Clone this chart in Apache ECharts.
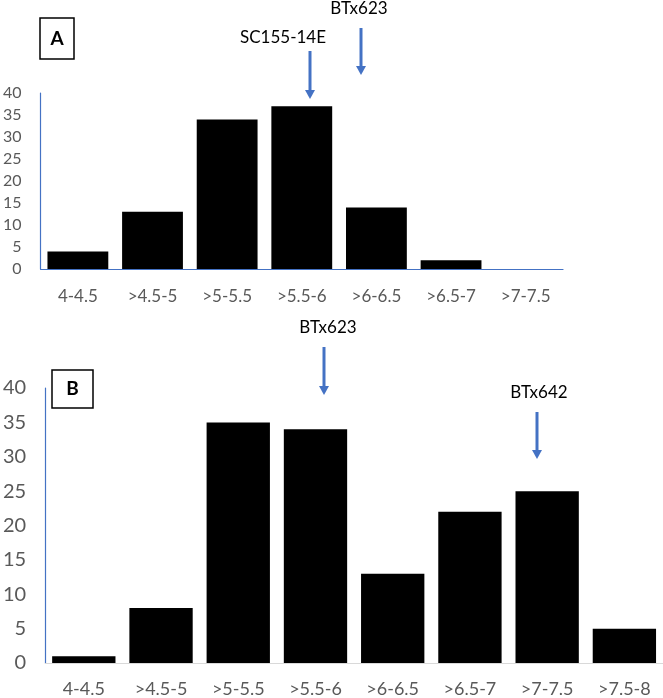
<!DOCTYPE html>
<html>
<head>
<meta charset="utf-8">
<script src="https://cdn.jsdelivr.net/npm/echarts@6/dist/echarts.min.js"></script>
<style>
html,body{margin:0;padding:0;background:#fff;}
#chart{width:663px;height:698px;}
</style>
</head>
<body>
<div id="chart"></div>
<script>
var categoriesA = ['4-4.5', '>4.5-5', '>5-5.5', '>5.5-6', '>6-6.5', '>6.5-7', '>7-7.5'];
var valuesA = [4, 13, 34, 37, 14, 2, 0];
var categoriesB = ['4-4.5', '>4.5-5', '>5-5.5', '>5.5-6', '>6-6.5', '>6.5-7', '>7-7.5', '>7.5-8'];
var valuesB = [1, 8, 35, 34, 13, 22, 25, 5];
var yTicks = [0, 5, 10, 15, 20, 25, 30, 35, 40];

var FONT = 'Lato, "Open Sans", sans-serif';
var BLUE = '#4472C4';
var GRAY = '#595959';

function arrow(x, y1, y2) {
  var head = 9;
  return [
    { type: 'line', shape: { x1: x, y1: y1, x2: x, y2: y2 - head + 1 }, style: { stroke: BLUE, lineWidth: 3 } },
    { type: 'polygon', shape: { points: [[x - 5, y2 - head], [x + 5, y2 - head], [x, y2]] }, style: { fill: BLUE } }
  ];
}
function boxLabel(x, y, w, h, t) {
  return [
    { type: 'rect', shape: { x: x, y: y, width: w, height: h }, style: { fill: '#fff', stroke: '#000', lineWidth: 1.5 } },
    { type: 'text', x: x + w / 2, y: y + h / 2, style: { text: t, font: 'bold 19px ' + FONT, fill: '#000', align: 'center', verticalAlign: 'middle' } }
  ];
}
function note(x, y, t) {
  return { type: 'text', x: x, y: y, style: { text: t, font: '17px ' + FONT, fill: '#000', align: 'center', verticalAlign: 'middle' } };
}

var chart = echarts.init(document.getElementById('chart'), null, { renderer: 'canvas' });
var graphics = []
  .concat(boxLabel(40, 18, 34, 41, 'A'))
  .concat(boxLabel(52, 370, 41, 38, 'B'))
  .concat(arrow(310, 51, 99))
  .concat(arrow(361, 28, 75))
  .concat(arrow(324, 347, 395))
  .concat(arrow(537, 412, 459))
  .concat([note(283, 38, 'SC155-14E'), note(359, 9, 'BTx623'), note(328, 328, 'BTx623'), note(539, 393, 'BTx642')]);

chart.setOption({
  animation: false,
  backgroundColor: '#fff',
  grid: [
    { left: 39, top: 93, width: 524, height: 176, containLabel: false },
    { left: 39, top: 388, right: 0, height: 277, containLabel: false }
  ],
  xAxis: [
    {
      gridIndex: 0, type: 'category', data: categoriesA,
      axisLine: { lineStyle: { color: BLUE, width: 1.2 } },
      axisTick: { show: false },
      axisLabel: { color: GRAY, fontSize: 17, fontFamily: FONT, margin: 19, interval: 0 }
    },
    {
      gridIndex: 1, type: 'category', data: categoriesB,
      axisLine: { lineStyle: { color: '#d9d9d9', width: 1.2 } },
      axisTick: { show: false },
      axisLabel: { color: GRAY, fontSize: 18, fontFamily: FONT, margin: 17, interval: 0 }
    }
  ],
  yAxis: [
    {
      gridIndex: 0, type: 'value', min: yTicks[0], max: yTicks[yTicks.length - 1], interval: 5,
      axisLine: { show: true, lineStyle: { color: BLUE, width: 1.2 } },
      axisTick: { show: false }, splitLine: { show: false },
      axisLabel: { color: GRAY, fontSize: 16, fontFamily: FONT, margin: 19 }
    },
    {
      gridIndex: 1, type: 'value', min: yTicks[0], max: yTicks[yTicks.length - 1], interval: 5,
      axisLine: { show: true, lineStyle: { color: BLUE, width: 1.2 } },
      axisTick: { show: false }, splitLine: { show: false },
      axisLabel: { color: GRAY, fontSize: 20, fontFamily: FONT, margin: 19 }
    }
  ],
  series: [
    {
      type: 'bar', xAxisIndex: 0, yAxisIndex: 0, data: valuesA,
      barCategoryGap: '18.5%',
      itemStyle: { color: '#000' }
    },
    {
      type: 'bar', xAxisIndex: 1, yAxisIndex: 1, data: valuesB,
      barCategoryGap: '18%',
      itemStyle: { color: '#000' }
    }
  ],
  graphic: graphics
});
</script>
</body>
</html>
